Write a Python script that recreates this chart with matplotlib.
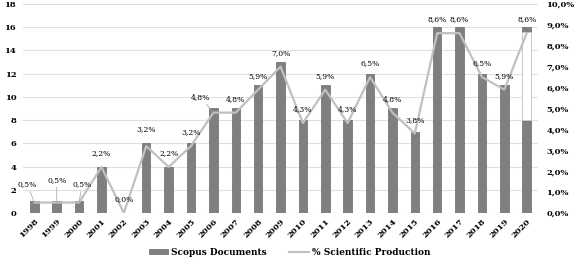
import matplotlib.pyplot as plt
from matplotlib.lines import Line2D
from matplotlib.patches import Patch

# Years
years = list(range(1998, 2021))
# Scopus documents per year
docs = [1, 1, 1, 4, 0, 6, 4, 6, 9, 9, 11, 13, 8, 11, 8, 12, 9, 7, 16, 16, 12, 11, 16]
# Share of scientific production (%)
pct = [0.5, 0.5, 0.5, 2.2, 0.0, 3.2, 2.2, 3.2, 4.8, 4.8, 5.9, 7.0, 4.3, 5.9, 4.3,
       6.5, 4.8, 3.8, 8.6, 8.6, 6.5, 5.9, 8.6]
# blank band drawn over the last bar in the original
gap_years = [2020]
gap_low = [8]
gap_high = [15.6]

plt.rcParams['font.family'] = ['DejaVu Serif']

fig = plt.figure(figsize=(5.79, 2.61), dpi=100)
ax = fig.add_axes([0.040, 0.184, 0.889, 0.801])
ax2 = ax.twinx()

x = list(range(len(years)))
bar_color = '#7f7f7f'
line_color = '#c0c0c0'

ax.bar(x, docs, width=0.38, color=bar_color, edgecolor='#6a6a6a', linewidth=0.5, zorder=2)
gx = [years.index(y) for y in gap_years]
ax.bar(gx, [h - l for l, h in zip(gap_low, gap_high)], bottom=gap_low, width=0.38,
       color='white', edgecolor='#cccccc', linewidth=0.5, zorder=2)

ax.set_ylim(0, 18)
ax.set_yticks(range(0, 19, 2))
ax.set_xlim(-0.5, len(years) - 0.5)
ax.set_xticks(x)
ax.set_xticklabels([str(y) for y in years], rotation=45, ha='right', rotation_mode='anchor',
                   fontsize=6, fontweight='bold')
ax.tick_params(axis='x', length=0, pad=3)
ax.tick_params(axis='y', length=0, pad=5, labelsize=6)
for lbl in ax.get_yticklabels():
    lbl.set_fontweight('bold')
ax.grid(axis='y', color='#e0e0e0', linewidth=0.8, zorder=0)
ax.set_axisbelow(True)

ax2.plot(x, pct, color=line_color, linewidth=1.6, zorder=3)
ax2.set_ylim(0, 10)
ax2.set_yticks(range(0, 11))
ax2.set_yticklabels([('%.1f' % v).replace('.', ',') + '%' for v in range(0, 11)],
                    fontsize=6, fontweight='bold')
ax2.tick_params(axis='y', length=0, pad=6)

for a in (ax, ax2):
    for s in a.spines.values():
        s.set_visible(False)

# label offsets (points), a few labels have leader lines
offsets = {0: (-5, 10), 1: (0, 13), 2: (2, 10), 5: (0, 9), 8: (-9, 8)}
leaders = {0, 1, 2, 8}
for i, p in enumerate(pct):
    dx, dy = offsets.get(i, (0, 7))
    txt = ('%.1f' % p).replace('.', ',') + '%'
    kw = {}
    if i in leaders:
        kw['arrowprops'] = dict(arrowstyle='-', color='#a0a0a0', linewidth=0.5,
                                shrinkA=0, shrinkB=0)
    ax2.annotate(txt, (i, p), xytext=(dx, dy), textcoords='offset points',
                 ha='center', va='bottom', fontsize=5.5, zorder=4, **kw)

handles = [Patch(facecolor=bar_color, edgecolor='#6a6a6a', linewidth=0.5),
           Line2D([0], [0], color=line_color, linewidth=1.6)]
fig.legend(handles, ['Scopus Documents', '% Scientific Production'],
           loc='lower center', bbox_to_anchor=(0.5, -0.015), ncol=2, frameon=False,
           prop={'size': 6.5, 'weight': 'bold'}, handlelength=2.2, handleheight=0.5,
           columnspacing=2.5, handletextpad=0.3)

plt.savefig('out.png', dpi=100)
